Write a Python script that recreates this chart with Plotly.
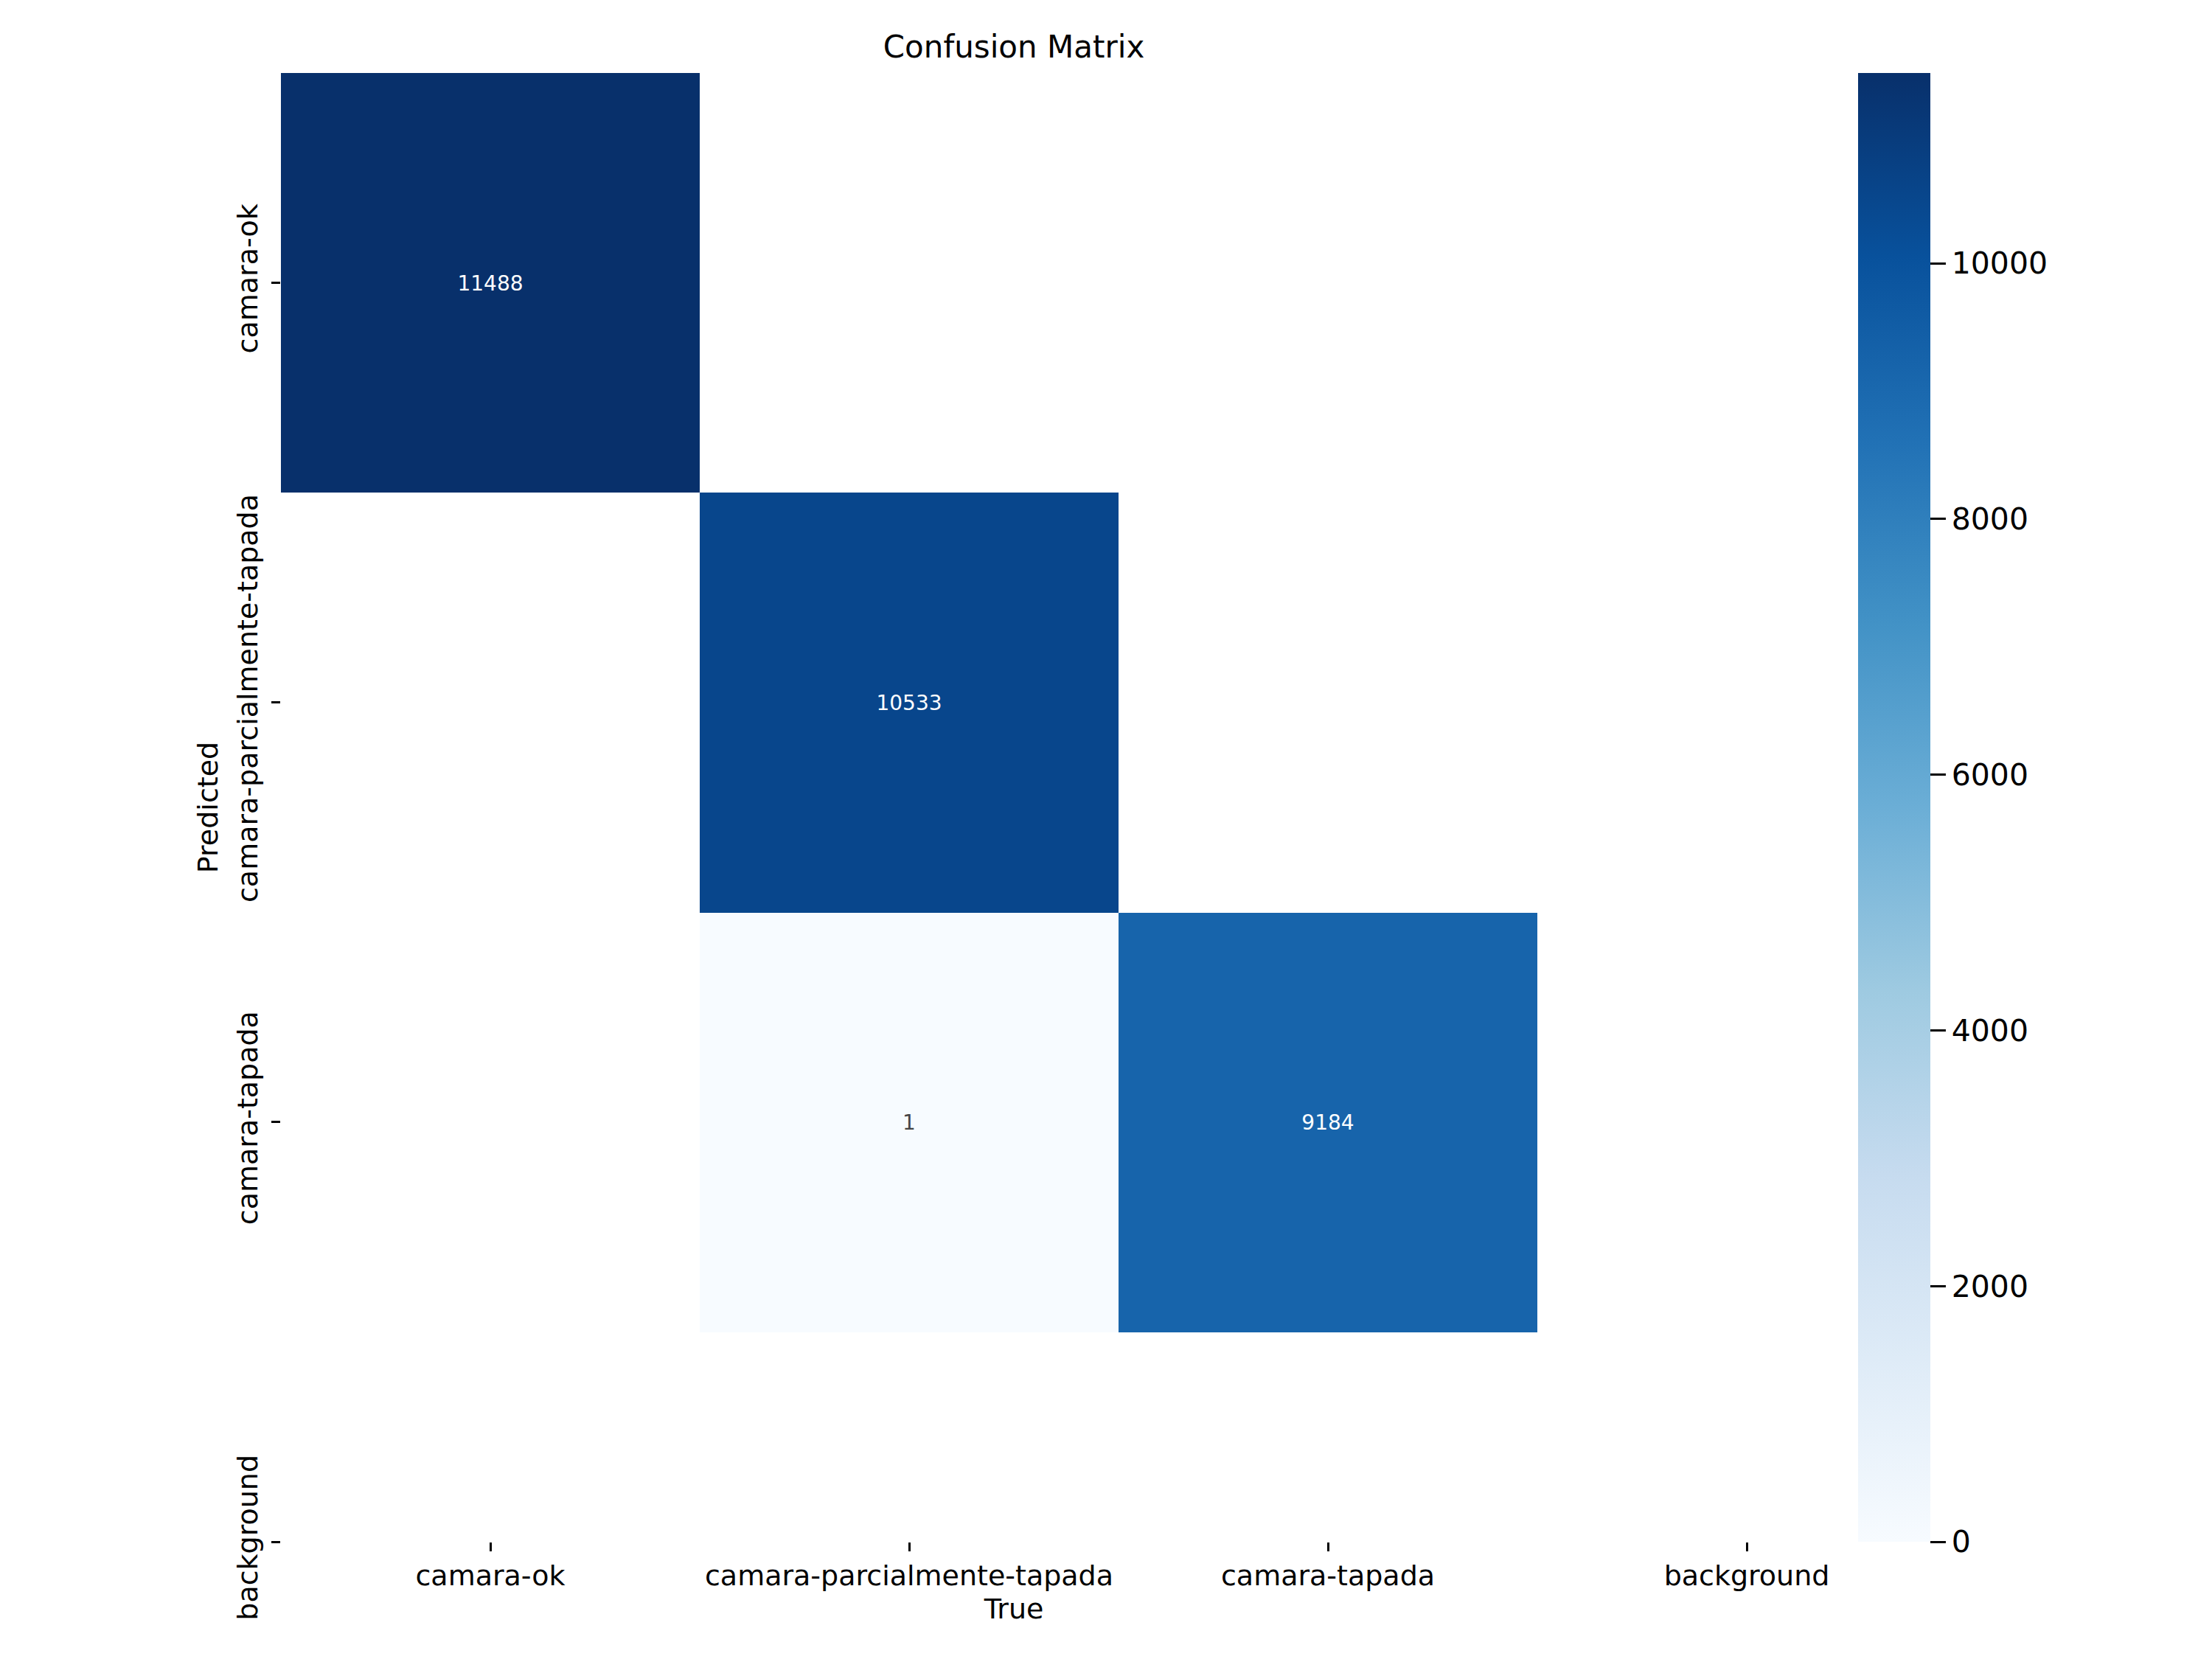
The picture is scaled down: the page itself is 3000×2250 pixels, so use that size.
"""Confusion matrix heatmap (Plotly)."""

import plotly.graph_objects as go

true_labels = ["camara-ok", "camara-parcialmente-tapada", "camara-tapada", "background"]
pred_labels = ["camara-ok", "camara-parcialmente-tapada", "camara-tapada", "background"]

# rows = predicted, cols = true; None = empty cell (masked)
row_camara_ok = [11488, None, None, None]
row_parcial = [None, 10533, None, None]
row_tapada = [None, 1, 9184, None]
row_background = [None, None, None, None]

colorbar_ticks = [0, 2000, 4000, 6000, 8000, 10000]

blues = ["rgb(247,251,255)", "rgb(222,235,247)", "rgb(198,219,239)",
         "rgb(158,202,225)", "rgb(107,174,214)", "rgb(66,146,198)",
         "rgb(33,113,181)", "rgb(8,81,156)", "rgb(8,48,107)"]

FONT = "DejaVu Sans"

# page body adds an 8px offset, so margins are shifted to compensate
L, R, T, B = 373, 639, 91, 167
PLOT_W = 3000 - L - R


def build():
    z = [row_camara_ok, row_parcial, row_tapada, row_background]
    text = [["" if v is None else str(v) for v in row] for row in z]
    zmax = max(v for row in z for v in row if v is not None)

    fig = go.Figure()
    fig.add_trace(go.Heatmap(
        z=z, x=true_labels, y=pred_labels,
        text=text, texttemplate="%{text}",
        textfont=dict(family=FONT, size=28),
        colorscale=[[i / (len(blues) - 1), c] for i, c in enumerate(blues)],
        zmin=0, zmax=zmax,
        hoverinfo="skip",
        colorbar=dict(
            x=(2512 - L) / PLOT_W, xanchor="left", xpad=0,
            y=0.5, len=1, ypad=0, thickness=98,
            outlinewidth=0,
            tickvals=colorbar_ticks, tickformat="d",
            ticks="outside", ticklen=21, tickwidth=3, tickcolor="black",
            tickfont=dict(family=FONT, size=41, color="black"),
        ),
    ))
    fig.update_layout(
        width=3000, height=2250,
        margin=dict(l=L, r=R, t=T, b=B),
        paper_bgcolor="white", plot_bgcolor="white",
        font=dict(family=FONT, color="black"),
        title=dict(text="Confusion Matrix", x=(L + PLOT_W / 2) / 3000, xanchor="center",
                   y=1 - 55 / 2250, yanchor="middle",
                   font=dict(family=FONT, size=42, color="black")),
    )
    fig.update_xaxes(
        range=[-0.5, 3], showgrid=False, zeroline=False, showline=False,
        ticks="outside", ticklen=12, tickwidth=3, tickcolor="black",
        tickfont=dict(size=38, color="black"),
        title=dict(text="True", font=dict(size=38, color="black"), standoff=10),
    )
    fig.update_yaxes(
        range=[3, -0.5], showgrid=False, zeroline=False, showline=False,
        ticks="outside", ticklen=12, tickwidth=3, tickcolor="black",
        tickangle=-90, ticklabelstandoff=4,
        tickfont=dict(size=38, color="black"),
        title=dict(text="Predicted", font=dict(size=38, color="black"), standoff=6),
    )
    return fig


fig = build()
fig.write_html("out.html")
